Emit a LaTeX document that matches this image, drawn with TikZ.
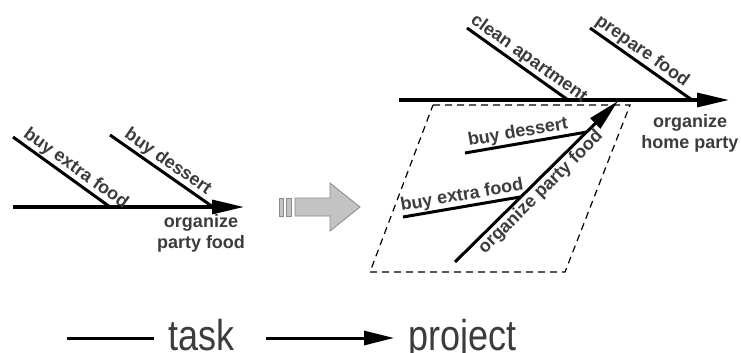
\documentclass[tikz,border=0pt]{standalone}
\usepackage{fontspec}
\setmainfont{Liberation Sans}
\usetikzlibrary{arrows.meta}
\definecolor{txtgray}{HTML}{3C3C3C}
\definecolor{blockfill}{HTML}{C3C3C3}
\definecolor{blockdraw}{HTML}{8A8A8A}

\begin{document}
\begin{tikzpicture}[
  x=1pt, y=-1pt,
  bone/.style={line width=3pt},
  spine/.style={line width=3.2pt, -{Triangle[length=32pt, width=14pt]}},
  lbl/.style={font=\fontsize{18}{21}\selectfont\bfseries, text=txtgray, inner sep=1pt},
  goal/.style={lbl, align=center},
  legendtxt/.style={font=\fontsize{36}{38}\selectfont, text=txtgray, anchor=base west, inner sep=0pt},
  frame/.style={line width=1.2pt, dash pattern=on 7pt off 5pt}
]
\useasboundingbox (0,0) rectangle (741,353);

% task diagram
\coordinate (l-tail) at (13,207);
\coordinate (l-head) at (244,207);
\coordinate (l-b1s) at (13,137);
\coordinate (l-b1e) at (110,207);
\coordinate (l-b2s) at (110,135);
\coordinate (l-b2e) at (213,207);
\draw[spine] (l-tail) -- (l-head);
\draw[bone] (l-b1s) -- node[lbl, sloped, above, pos=0.58] (l-extra) {buy extra food} (l-b1e);
\draw[bone] (l-b2s) -- node[lbl, sloped, above, pos=0.5] (l-dessert) {buy dessert} (l-b2e);
\node[goal] (l-goal) at (201,233) {organize\\party food};

% transition arrow
\filldraw[fill=blockfill, draw=blockdraw, line width=0.8pt] (279,198) rectangle (283,216);
\filldraw[fill=blockfill, draw=blockdraw, line width=0.8pt] (286,198) rectangle (291,216);
\filldraw[fill=blockfill, draw=blockdraw, line width=0.8pt]
  (295,198) -- (330,198) -- (330,183) -- (360,207) -- (330,231) -- (330,216) -- (295,216) -- cycle;

% project diagram
\coordinate (r-tail) at (399,100);
\coordinate (r-head) at (729,100);
\coordinate (r-b1s) at (467,28);
\coordinate (r-b1e) at (568,100);
\coordinate (r-b2s) at (590,28);
\coordinate (r-b2e) at (692,100);
\coordinate (p-tail) at (455,262);
\coordinate (p-head) at (618,101);
\coordinate (p-b1s) at (465,153);
\coordinate (p-b1e) at (587,132);
\coordinate (p-b2s) at (403,217);
\coordinate (p-b2e) at (520,197);
\draw[frame] (433,105) -- (630,105) -- (565,272) -- (370,272) -- cycle;
\draw[spine] (r-tail) -- (r-head);
\draw[bone] (r-b1s) -- node[lbl, sloped, above, pos=0.55] (r-clean) {clean apartment} (r-b1e);
\draw[bone] (r-b2s) -- node[lbl, sloped, above, pos=0.45] (r-prepare) {prepare food} (r-b2e);
\draw[spine, line width=3pt] (p-tail) -- node[lbl, sloped, below, pos=0.48] (p-goal) {organize party food} (p-head);
\draw[bone] (p-b1s) -- node[lbl, sloped, above, pos=0.45] (p-dessert) {buy dessert} (p-b1e);
\draw[bone] (p-b2s) -- node[lbl, sloped, above, pos=0.52] (p-extra) {buy extra food} (p-b2e);
\node[goal] (r-goal) at (690,133) {organize\\home party};

% legend
\coordinate (k-line1) at (67,338);
\coordinate (k-line2) at (154,338);
\coordinate (k-arr1) at (266,338);
\coordinate (k-arr2) at (394,338);
\draw[bone] (k-line1) -- (k-line2);
\node[legendtxt] (task) at (168,350) {\scalebox{1}[1.2]{task}};
\draw[line width=3pt, -{Triangle[length=30pt, width=14pt]}] (k-arr1) -- (k-arr2);
\node[legendtxt] (project) at (408,350) {\scalebox{1}[1.2]{project}};
\end{tikzpicture}
\end{document}
